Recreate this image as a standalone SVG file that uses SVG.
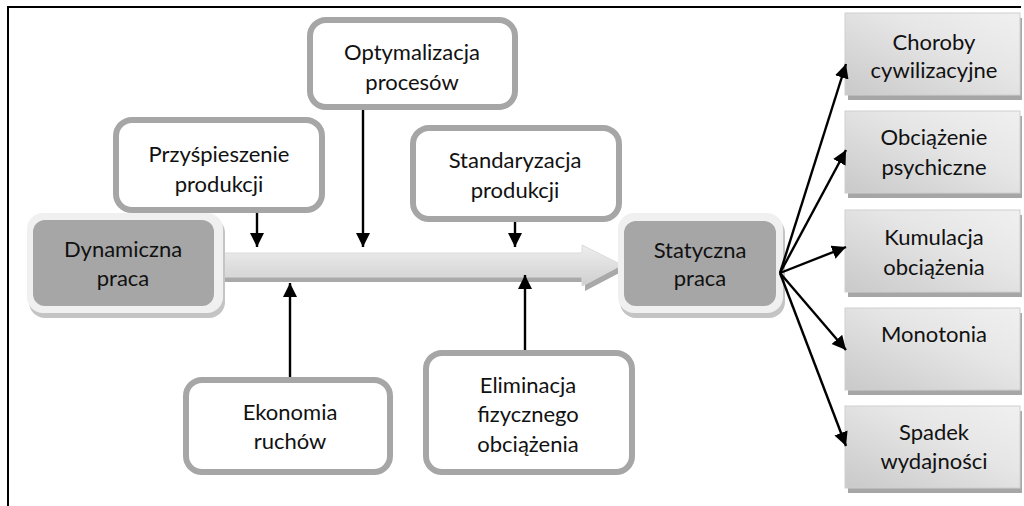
<svg xmlns="http://www.w3.org/2000/svg" width="1024" height="506" viewBox="0 0 1024 506">
<defs>
<linearGradient id="gBox" x1="0" y1="1" x2="1" y2="0">
<stop offset="0" stop-color="#c9c9c9"/>
<stop offset="0.6" stop-color="#e6e6e6"/>
<stop offset="1" stop-color="#f0f0f0"/>
</linearGradient>
<linearGradient id="gArrow" x1="0" y1="0" x2="0" y2="1">
<stop offset="0" stop-color="#eeeeee"/>
<stop offset="1" stop-color="#cfcfcf"/>
</linearGradient>
<marker id="ah" markerUnits="userSpaceOnUse" markerWidth="16" markerHeight="16" refX="14" refY="7" orient="auto">
<path d="M0,0 L14,7 L0,14 z" fill="#000"/>
</marker>
<style>
.t{font-family:Lato,"Liberation Sans",sans-serif;font-size:22px;fill:#111;text-anchor:middle}
.rb{fill:#fff;stroke:#a6a6a6;stroke-width:6}
.gb{fill:url(#gBox);stroke:#cfcfcf;stroke-width:1}
.sh{fill:#a6a6a6}
.dk{fill:#a6a6a6}
.fr{fill:#f0f0f0}
.fs{fill:#c4c4c4}
.c{stroke:#000;stroke-width:2.4;fill:none;marker-end:url(#ah)}
</style>
</defs>
<rect width="1024" height="506" fill="#fff"/>
<g id="frame">
<line x1="8" y1="7" x2="1021" y2="7" stroke="#000" stroke-width="2"/>
<line x1="8" y1="6" x2="8" y2="506" stroke="#000" stroke-width="2"/>
</g>
<g id="main-arrow">
<polygon points="220,257 585,257 585,249 625,270 585,291 585,282 220,282" fill="#a9a9a9"/>
<polygon points="217,253 582,253 582,245 622,265 582,286 582,277 217,277" fill="url(#gArrow)" stroke="#dadada" stroke-width="1"/>
</g>
<g id="dynamiczna">
<rect x="29" y="217" width="196" height="101" rx="16" class="fs"/>
<rect x="27" y="213" width="196" height="100" rx="16" class="fr"/>
<rect x="33" y="220" width="181" height="86" rx="12" class="dk"/>
<text class="t" x="123" y="257">Dynamiczna</text>
<text class="t" x="123" y="286">praca</text>
</g>
<g id="statyczna">
<rect x="620" y="217" width="165" height="101" rx="16" class="fs"/>
<rect x="618" y="213" width="165" height="100" rx="16" class="fr"/>
<rect x="624" y="221" width="152" height="85" rx="12" class="dk"/>
<text class="t" x="700" y="258">Statyczna</text>
<text class="t" x="700" y="286">praca</text>
</g>
<g id="przyspieszenie">
<rect x="116" y="120" width="206" height="90" rx="16" class="rb"/>
<text class="t" x="219" y="162">Przyśpieszenie</text>
<text class="t" x="219" y="192">produkcji</text>
</g>
<g id="optymalizacja">
<rect x="310" y="20" width="205" height="87" rx="16" class="rb"/>
<text class="t" x="412" y="60">Optymalizacja</text>
<text class="t" x="412" y="90">procesów</text>
</g>
<g id="standaryzacja">
<rect x="413" y="128" width="206" height="91" rx="16" class="rb"/>
<text class="t" x="515" y="168">Standaryzacja</text>
<text class="t" x="515" y="198">produkcji</text>
</g>
<g id="ekonomia">
<rect x="186" y="380" width="204" height="92" rx="16" class="rb"/>
<text class="t" x="290" y="420">Ekonomia</text>
<text class="t" x="290" y="449">ruchów</text>
</g>
<g id="eliminacja">
<rect x="426" y="353" width="206" height="119" rx="16" class="rb"/>
<text class="t" x="528" y="393">Eliminacja</text>
<text class="t" x="528" y="422">fizycznego</text>
<text class="t" x="528" y="452">obciążenia</text>
</g>
<g id="choroby">
<rect x="848" y="18" width="174" height="82" class="sh"/>
<rect x="845" y="13" width="175" height="82" class="gb"/>
<text class="t" x="934" y="50">Choroby</text>
<text class="t" x="934" y="78">cywilizacyjne</text>
</g>
<g id="obciazenie">
<rect x="848" y="116" width="174" height="82" class="sh"/>
<rect x="845" y="111" width="175" height="82" class="gb"/>
<text class="t" x="934" y="145">Obciążenie</text>
<text class="t" x="934" y="175">psychiczne</text>
</g>
<g id="kumulacja">
<rect x="848" y="215" width="174" height="82" class="sh"/>
<rect x="845" y="210" width="175" height="82" class="gb"/>
<text class="t" x="934" y="245">Kumulacja</text>
<text class="t" x="934" y="275">obciążenia</text>
</g>
<g id="monotonia">
<rect x="848" y="313" width="174" height="82" class="sh"/>
<rect x="845" y="308" width="175" height="82" class="gb"/>
<text class="t" x="934" y="342">Monotonia</text>
</g>
<g id="spadek">
<rect x="848" y="411" width="174" height="82" class="sh"/>
<rect x="845" y="406" width="175" height="82" class="gb"/>
<text class="t" x="934" y="440">Spadek</text>
<text class="t" x="934" y="469">wydajności</text>
</g>
<g id="connectors">
<line class="c" x1="257" y1="213" x2="257" y2="247"/>
<line class="c" x1="363" y1="110" x2="363" y2="247"/>
<line class="c" x1="515" y1="222" x2="515" y2="247"/>
<line class="c" x1="290" y1="377" x2="290" y2="283"/>
<line class="c" x1="525" y1="350" x2="525" y2="275"/>
<line class="c" x1="780" y1="273" x2="846" y2="64"/>
<line class="c" x1="780" y1="273" x2="846" y2="150"/>
<line class="c" x1="780" y1="273" x2="846" y2="247"/>
<line class="c" x1="780" y1="273" x2="846" y2="350"/>
<line class="c" x1="780" y1="273" x2="846" y2="446"/>
</g>
</svg>
